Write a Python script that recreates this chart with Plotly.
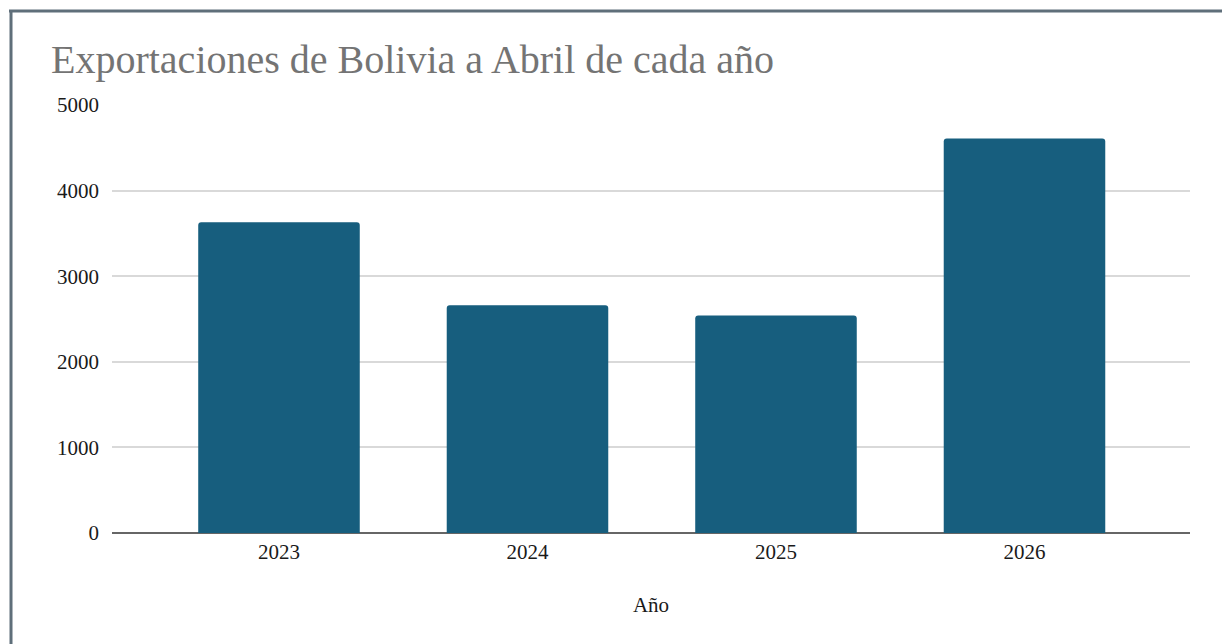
import plotly.graph_objects as go

years = ["2023", "2024", "2025", "2026"]
exports = [3630, 2660, 2540, 4610]
y_ticks = [0, 1000, 2000, 3000, 4000, 5000]

# page body adds an 8px offset; design the figure in page pixels minus 8
OFF = 8
W, H = 1230 - OFF, 644 - OFF
ml, mr, mt, mb = 112 - OFF, 40, 105 - OFF, 111
pw, ph = W - ml - mr, H - mt - mb

def px_x(x):
    return (x - OFF - ml) / pw

def px_y(y):
    return (H - mb - (y - OFF)) / ph

SERIF = "Liberation Serif, Times New Roman, serif"

fig = go.Figure()
fig.add_trace(go.Bar(
    x=list(range(len(years))),
    y=exports,
    width=0.65,
    marker=dict(color="#175e7e", line=dict(width=0)),
    hoverinfo="x+y",
))

fig.update_layout(
    width=W, height=H,
    margin=dict(l=ml, r=mr, t=mt, b=mb),
    paper_bgcolor="white",
    plot_bgcolor="white",
    barcornerradius=3,
    showlegend=False,
    font=dict(family=SERIF, color="#1a1a1a"),
    title=dict(
        text="Exportaciones de Bolivia a Abril de cada año",
        x=(51 - OFF) / W, xanchor="left",
        y=1 - (59 - OFF) / H, yanchor="middle",
        font=dict(family=SERIF, size=40, color="#747474"),
    ),
    xaxis=dict(
        tickmode="array",
        tickvals=list(range(len(years))),
        ticktext=years,
        range=[-0.672, 3.666],
        showgrid=False,
        zeroline=False,
        showline=False,
        ticks="",
        ticklabelstandoff=4,
        tickfont=dict(size=21, color="#1a1a1a"),
        title=dict(text="Año", font=dict(size=21, color="#1a1a1a"), standoff=34),
    ),
    yaxis=dict(
        range=[0, 5000],
        tickmode="array",
        tickvals=y_ticks,
        showgrid=True,
        gridcolor="#d9d9d9",
        gridwidth=1.5,
        zeroline=True,
        zerolinecolor="#666666",
        zerolinewidth=2,
        ticks="",
        ticklabelstandoff=12,
        tickfont=dict(size=21, color="#1a1a1a"),
    ),
    shapes=[
        dict(type="line", xref="paper", yref="paper",
             x0=px_x(9), x1=px_x(1240), y0=px_y(11), y1=px_y(11),
             line=dict(color="#5f6f7a", width=3), layer="above"),
        dict(type="line", xref="paper", yref="paper",
             x0=px_x(11), x1=px_x(11), y0=px_y(10), y1=px_y(660),
             line=dict(color="#5f6f7a", width=3), layer="above"),
    ],
)

fig.write_html("out.html")
